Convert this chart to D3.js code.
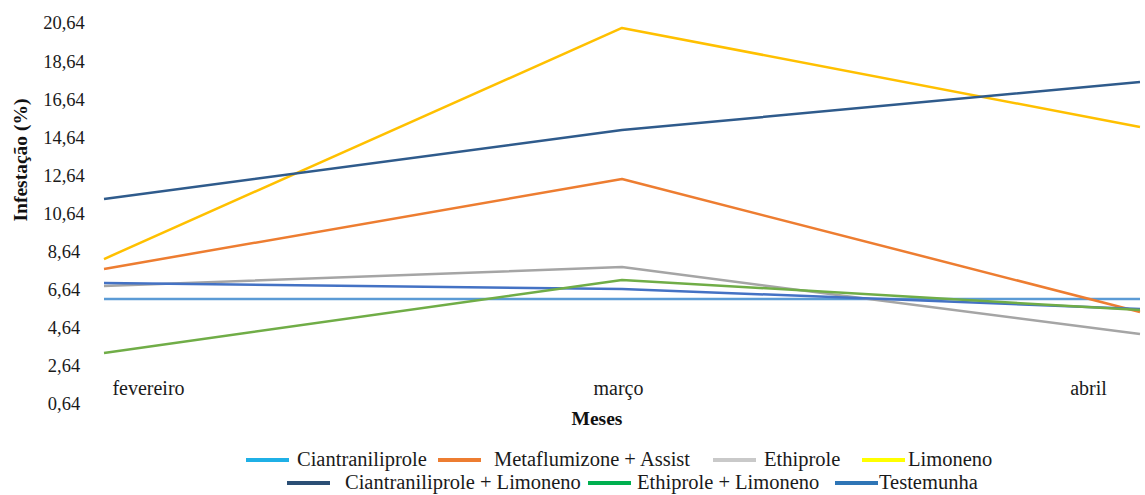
<!DOCTYPE html>
<html>
<head>
<meta charset="utf-8">
<script src="https://cdn.jsdelivr.net/npm/d3@7"></script>
<style>
  html, body { margin: 0; padding: 0; background: #fff; }
  svg { display: block; }
</style>
</head>
<body>
<svg id="chart" width="1145" height="495" font-family="Liberation Serif"></svg>
<script>
// ---------- data ----------
const months = ["fevereiro", "março", "abril"];
const yTicks = [0.64, 2.64, 4.64, 6.64, 8.64, 10.64, 12.64, 14.64, 16.64, 18.64, 20.64];
const seriesNames = [
  "Ciantraniliprole", "Metaflumizone + Assist", "Ethiprole", "Limoneno",
  "Ciantraniliprole + Limoneno", "Ethiprole + Limoneno", "Testemunha"
];
const ciantraniliprole = [6.15, 6.15, 6.15];
const metaflumizone   = [7.73, 12.45, 5.47];
const ethiprole       = [6.83, 7.83, 4.31];
const limoneno        = [8.25, 20.38, 15.18];
const ciantLimoneno   = [6.99, 6.68, 5.63];
const ethiLimoneno    = [3.32, 7.15, 5.57];
const testemunha      = [11.40, 15.02, 17.54];
const seriesValues = [ciantraniliprole, metaflumizone, ethiprole, limoneno, ciantLimoneno, ethiLimoneno, testemunha];

// ---------- styles ----------
const FONT = "Liberation Serif";
const lineColors   = ["#5b9bd5", "#ed7d31", "#a5a5a5", "#ffc000", "#4472c4", "#70ad47", "#2f5b8c"];
const legendColors = ["#1fb0e6", "#ed7d31", "#c9c9c9", "#ffff00", "#2b4f75", "#00b050", "#2e75b6"];
// legend layout: [row, swatchX, textX]
const legendLayout = [
  [0, 246, 297], [0, 438, 494], [0, 713, 764], [0, 862, 908],
  [1, 287, 345], [1, 588, 637], [1, 835, 879]
];

const svg = d3.select("#chart");

const x = d3.scalePoint().domain(months).range([104, 1140]);
const xLabel = d3.scalePoint().domain(months).range([148, 1088]);
const y = d3.scaleLinear().domain([0.64, 20.64]).range([404, 23]);

// y tick labels
const yAxis = d3.axisLeft(y).tickValues(yTicks)
  .tickFormat(d => d3.format(".2f")(d).replace(".", ","))
  .tickSize(0).tickPadding(0);
const gy = svg.append("g").attr("transform", "translate(64,0)").call(yAxis);
gy.attr("font-family", FONT).attr("font-size", 18.5);
gy.select(".domain").remove();
gy.selectAll("text")
  .attr("text-anchor", "middle")
  .attr("font-family", FONT)
  .attr("font-size", 18.5)
  .attr("fill", "#1a1a1a");

// x labels
const xAxis = d3.axisBottom(xLabel).tickSize(0).tickPadding(0);
const gx = svg.append("g").attr("transform", "translate(0,381)").call(xAxis);
gx.attr("font-family", FONT).attr("font-size", 20);
gx.select(".domain").remove();
gx.selectAll("text")
  .attr("font-family", FONT)
  .attr("font-size", 20)
  .attr("fill", "#1a1a1a");

// axis titles
svg.append("text")
  .attr("x", 597).attr("y", 425)
  .attr("text-anchor", "middle")
  .attr("font-family", FONT)
  .attr("font-weight", "bold").attr("font-size", 19.5)
  .attr("fill", "#111")
  .text("Meses");
svg.append("text")
  .attr("transform", "translate(27,160) rotate(-90)")
  .attr("text-anchor", "middle")
  .attr("font-family", FONT)
  .attr("font-weight", "bold").attr("font-size", 19.5)
  .attr("fill", "#111")
  .text("Infestação (%)");

// lines
const line = d3.line().x((d, i) => x(months[i])).y(d => y(d));
svg.append("g").selectAll("path")
  .data(seriesValues)
  .join("path")
  .attr("d", d => line(d))
  .attr("fill", "none")
  .attr("stroke", (d, i) => lineColors[i])
  .attr("stroke-width", 2.5)
  .attr("stroke-linejoin", "round");

// legend
const rowY = [460, 483];
const lg = svg.append("g");
seriesNames.forEach((name, i) => {
  const [row, sx, tx] = legendLayout[i];
  lg.append("line")
    .attr("x1", sx).attr("x2", sx + 43)
    .attr("y1", rowY[row]).attr("y2", rowY[row])
    .attr("stroke", legendColors[i]).attr("stroke-width", 4);
  lg.append("text")
    .attr("x", tx).attr("y", rowY[row] + 6)
    .attr("font-family", FONT)
    .attr("font-size", 20.5)
    .attr("fill", "#1a1a1a")
    .text(name);
});
</script>
</body>
</html>
